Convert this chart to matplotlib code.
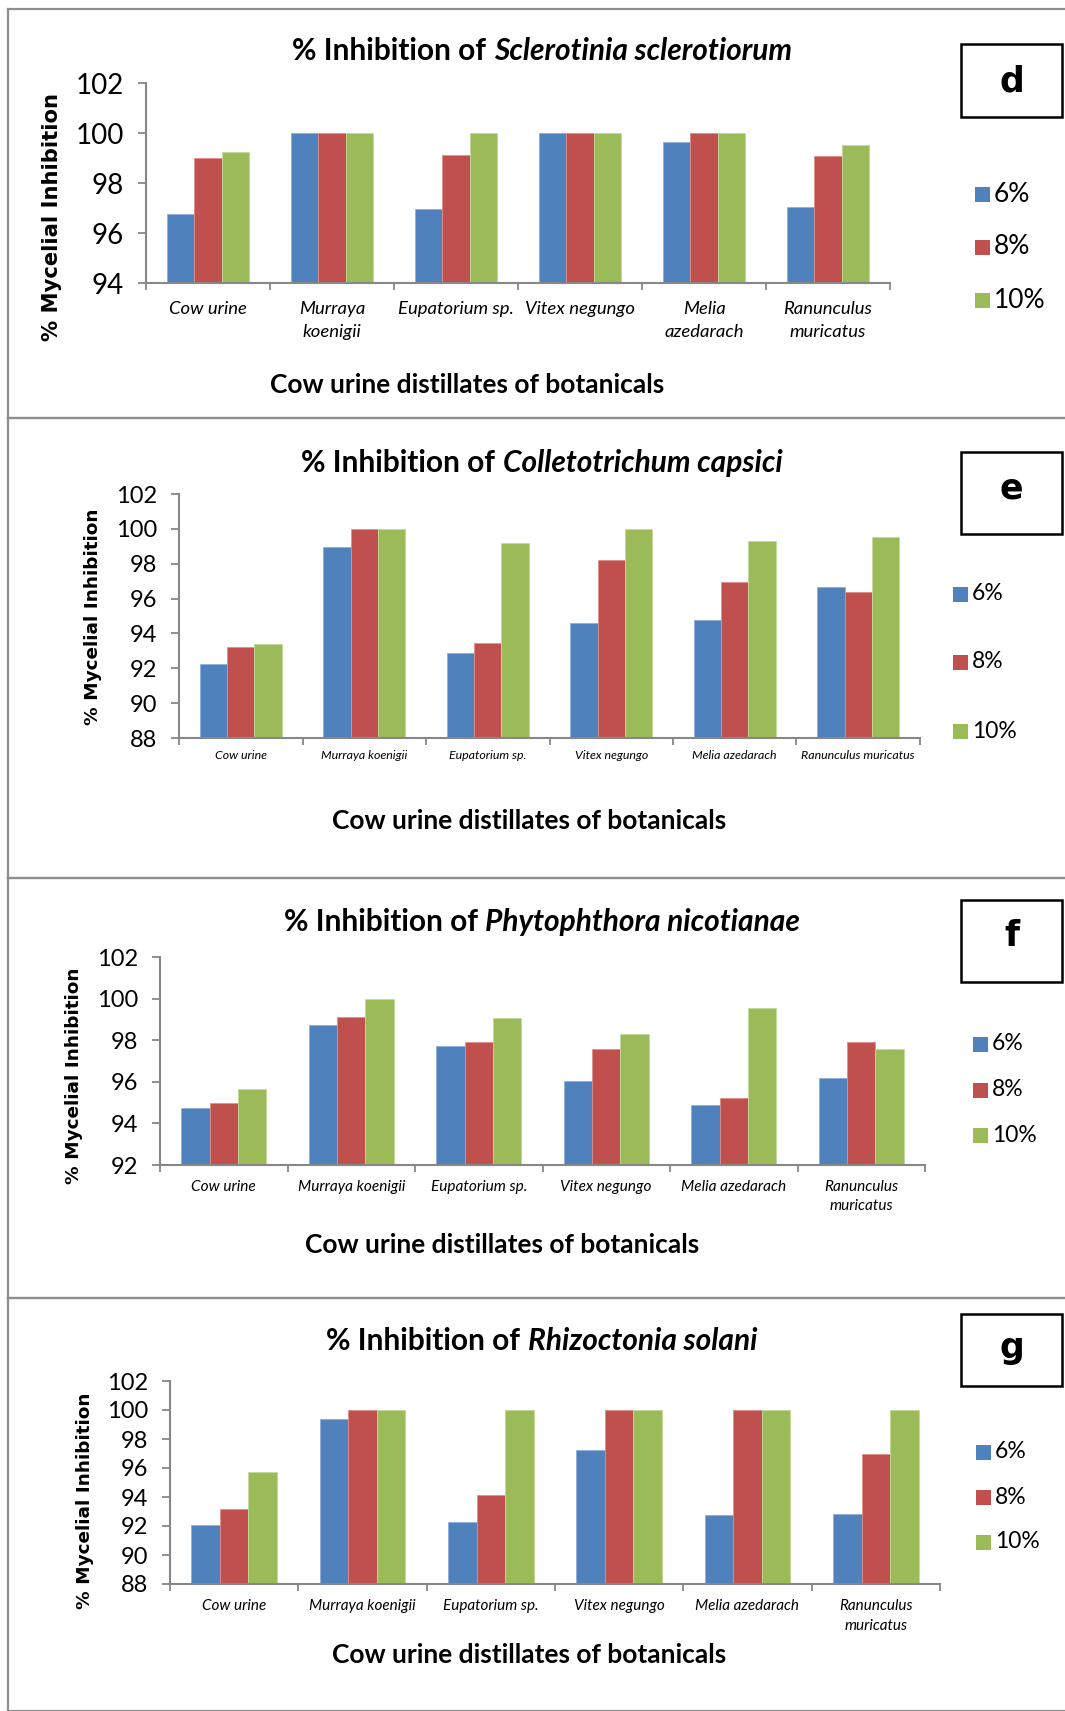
import numpy as np
import matplotlib.pyplot as plt
from matplotlib.patches import Rectangle
from matplotlib.lines import Line2D
from matplotlib.ticker import FixedLocator

plt.rcParams['font.family'] = ['Lato', 'DejaVu Sans']

W, H = 1065, 1711

# treatments (cow urine distillates) and concentrations
series = ['6%', '8%', '10%']
colors = ['#4F81BD', '#C0504D', '#9BBB59']
edges = ['#8EAEDA', '#E08F8D', '#C3D99A']

# % mycelial inhibition of Sclerotinia sclerotiorum
scl_6 = [96.75, 100, 96.96, 100, 99.63, 97.03]
scl_8 = [99.02, 100, 99.14, 100, 100, 99.09]
scl_10 = [99.24, 100, 100, 100, 100, 99.51]

# % mycelial inhibition of Colletotrichum capsici
col_6 = [92.24, 98.94, 92.89, 94.59, 94.76, 96.65]
col_8 = [93.2, 100, 93.46, 98.2, 96.94, 96.37]
col_10 = [93.41, 100, 99.19, 100, 99.31, 99.52]

# % mycelial inhibition of Phytophthora nicotianae
phy_6 = [94.72, 98.74, 97.7, 96.03, 94.88, 96.16]
phy_8 = [94.98, 99.1, 97.89, 97.57, 95.2, 97.89]
phy_10 = [95.66, 100, 99.07, 98.3, 99.57, 97.6]

# % mycelial inhibition of Rhizoctonia solani
rhi_6 = [92.06, 99.41, 92.27, 97.27, 92.75, 92.84]
rhi_8 = [93.16, 100, 94.17, 100, 100, 96.97]
rhi_10 = [95.73, 100, 100, 100, 100, 100]

labels_wrapped = ['Cow urine', 'Murraya\nkoenigii', 'Eupatorium sp.', 'Vitex negungo',
                  'Melia\nazedarach', 'Ranunculus\nmuricatus']
labels_flat = ['Cow urine', 'Murraya koenigii', 'Eupatorium sp.', 'Vitex negungo',
               'Melia azedarach', 'Ranunculus muricatus']
labels_half = ['Cow urine', 'Murraya koenigii', 'Eupatorium sp.', 'Vitex negungo',
               'Melia azedarach', 'Ranunculus\nmuricatus']

panels = [
    dict(species='Sclerotinia sclerotiorum', data=[scl_6, scl_8, scl_10], ymin=94,
         labels=labels_wrapped, tag='d',
         ax=(146, 890, 83, 283), title_y=51, xlab=(467, 385), ylab=(52, 217),
         frame=(9, 418), box=(44, 117), tag_y=81,
         leg_x=975, leg_y=[194, 247, 300],
         fs_tick=20, fs_cat=13.3, fs_ylab=15.2, fs_leg=19, cat_pad=13),
    dict(species='Colletotrichum capsici', data=[col_6, col_8, col_10], ymin=88,
         labels=labels_flat, tag='e',
         ax=(179, 920, 494, 738), title_y=463, xlab=(529, 821), ylab=(93, 617),
         frame=(418, 878), box=(452, 534), tag_y=489,
         leg_x=953, leg_y=[594, 662, 731],
         fs_tick=17, fs_cat=8.9, fs_ylab=13.3, fs_leg=16.5, cat_pad=8.5),
    dict(species='Phytophthora nicotianae', data=[phy_6, phy_8, phy_10], ymin=92,
         labels=labels_half, tag='f',
         ax=(160, 925, 957, 1165), title_y=922, xlab=(502, 1245), ylab=(74, 1076),
         frame=(878, 1298), box=(900, 982), tag_y=936,
         leg_x=973, leg_y=[1044, 1090, 1135],
         fs_tick=17, fs_cat=11.1, fs_ylab=13.3, fs_leg=16.5, cat_pad=10.5),
    dict(species='Rhizoctonia solani', data=[rhi_6, rhi_8, rhi_10], ymin=88,
         labels=labels_half, tag='g',
         ax=(170, 940, 1381, 1584), title_y=1341, xlab=(529, 1655), ylab=(85, 1501),
         frame=(1298, 1711), box=(1314, 1386), tag_y=1348,
         leg_x=976, leg_y=[1452, 1497, 1542],
         fs_tick=17, fs_cat=11, fs_ylab=13.3, fs_leg=16.5, cat_pad=11),
]


def fx(px):
    return px / W


def fy(py):
    return 1 - py / H


fig = plt.figure(figsize=(W / 100, H / 100), dpi=100)
fig.patch.set_facecolor('white')
renderer = fig.canvas.get_renderer()

grey = '#878787'
bar_w = 0.222
x = np.arange(6)
title_fs = 21.5

for p in panels:
    # panel frame: left, top and bottom rules
    top, bottom = p['frame']
    for seg in [((8, W), (top, top)), ((8, W), (bottom, bottom)), ((8, 8), (top, bottom))]:
        fig.add_artist(Line2D([fx(v) for v in seg[0]], [fy(v) for v in seg[1]],
                              color='#8f8f8f', lw=1.6, transform=fig.transFigure))

    left, right, atop, abot = p['ax']
    ax = fig.add_axes([fx(left), fy(abot), (right - left) / W, (abot - atop) / H])
    for i, vals in enumerate(p['data']):
        ax.bar(x + (i - 1) * bar_w, vals, bar_w, color=colors[i],
               edgecolor=edges[i], linewidth=0.6, zorder=2)

    ax.set_xlim(-0.5, 5.5)
    ax.set_ylim(p['ymin'], 102)
    ax.set_yticks(np.arange(p['ymin'], 103, 2))
    ax.set_xticks(x)
    ax.set_xticklabels(p['labels'], fontstyle='italic', fontsize=p['fs_cat'],
                       linespacing=1.5, va='top')
    ax.xaxis.set_minor_locator(FixedLocator(np.arange(-0.5, 6, 1)))
    ax.tick_params(axis='x', which='major', length=0, pad=p['cat_pad'])
    ax.tick_params(axis='x', which='minor', length=5, width=1.3, color=grey, direction='out')
    ax.tick_params(axis='y', length=6, width=1.3, color=grey, direction='out',
                   labelsize=p['fs_tick'], pad=10)
    for s in ['top', 'right']:
        ax.spines[s].set_visible(False)
    for s in ['left', 'bottom']:
        ax.spines[s].set_color(grey)
        ax.spines[s].set_linewidth(1.5)

    # title: plain part followed by the species name in italics
    t1 = fig.text(0, fy(p['title_y']), '% Inhibition of', fontsize=title_fs,
                  fontweight='bold', va='center', ha='left')
    t2 = fig.text(0, fy(p['title_y']), p['species'], fontsize=title_fs,
                  fontweight='bold', fontstyle='italic', va='center', ha='left')
    w1 = t1.get_window_extent(renderer).width
    w2 = t2.get_window_extent(renderer).width
    gap = title_fs * 100 / 72 * 0.26
    x0 = 542 - (w1 + gap + w2) / 2
    t1.set_x(fx(x0))
    t2.set_x(fx(x0 + w1 + gap))

    fig.text(fx(p['xlab'][0]), fy(p['xlab'][1]), 'Cow urine distillates of botanicals',
             fontsize=19, fontweight='bold', ha='center', va='center')
    fig.text(fx(p['ylab'][0]), fy(p['ylab'][1]), '% Mycelial Inhibition',
             fontsize=p['fs_ylab'], fontweight='bold', family='DejaVu Sans',
             rotation=90, ha='center', va='center')

    # legend keys
    for i, lab in enumerate(series):
        yc = p['leg_y'][i]
        fig.add_artist(Rectangle((fx(p['leg_x']), fy(yc + 7.5)), 15 / W, 15 / H,
                                 facecolor=colors[i], edgecolor='none',
                                 transform=fig.transFigure))
        fig.text(fx(p['leg_x'] + 19), fy(yc), lab, fontsize=p['fs_leg'],
                 ha='left', va='center')

    # panel letter box
    b0, b1 = p['box']
    fig.add_artist(Rectangle((fx(961), fy(b1)), 101 / W, (b1 - b0) / H,
                             facecolor='white', edgecolor='black', lw=1.8,
                             transform=fig.transFigure))
    fig.text(fx(1011.5), fy(p['tag_y']), p['tag'], fontsize=25, fontweight='bold',
             family='DejaVu Sans', ha='center', va='center')

fig.savefig('out.png', dpi=100)
